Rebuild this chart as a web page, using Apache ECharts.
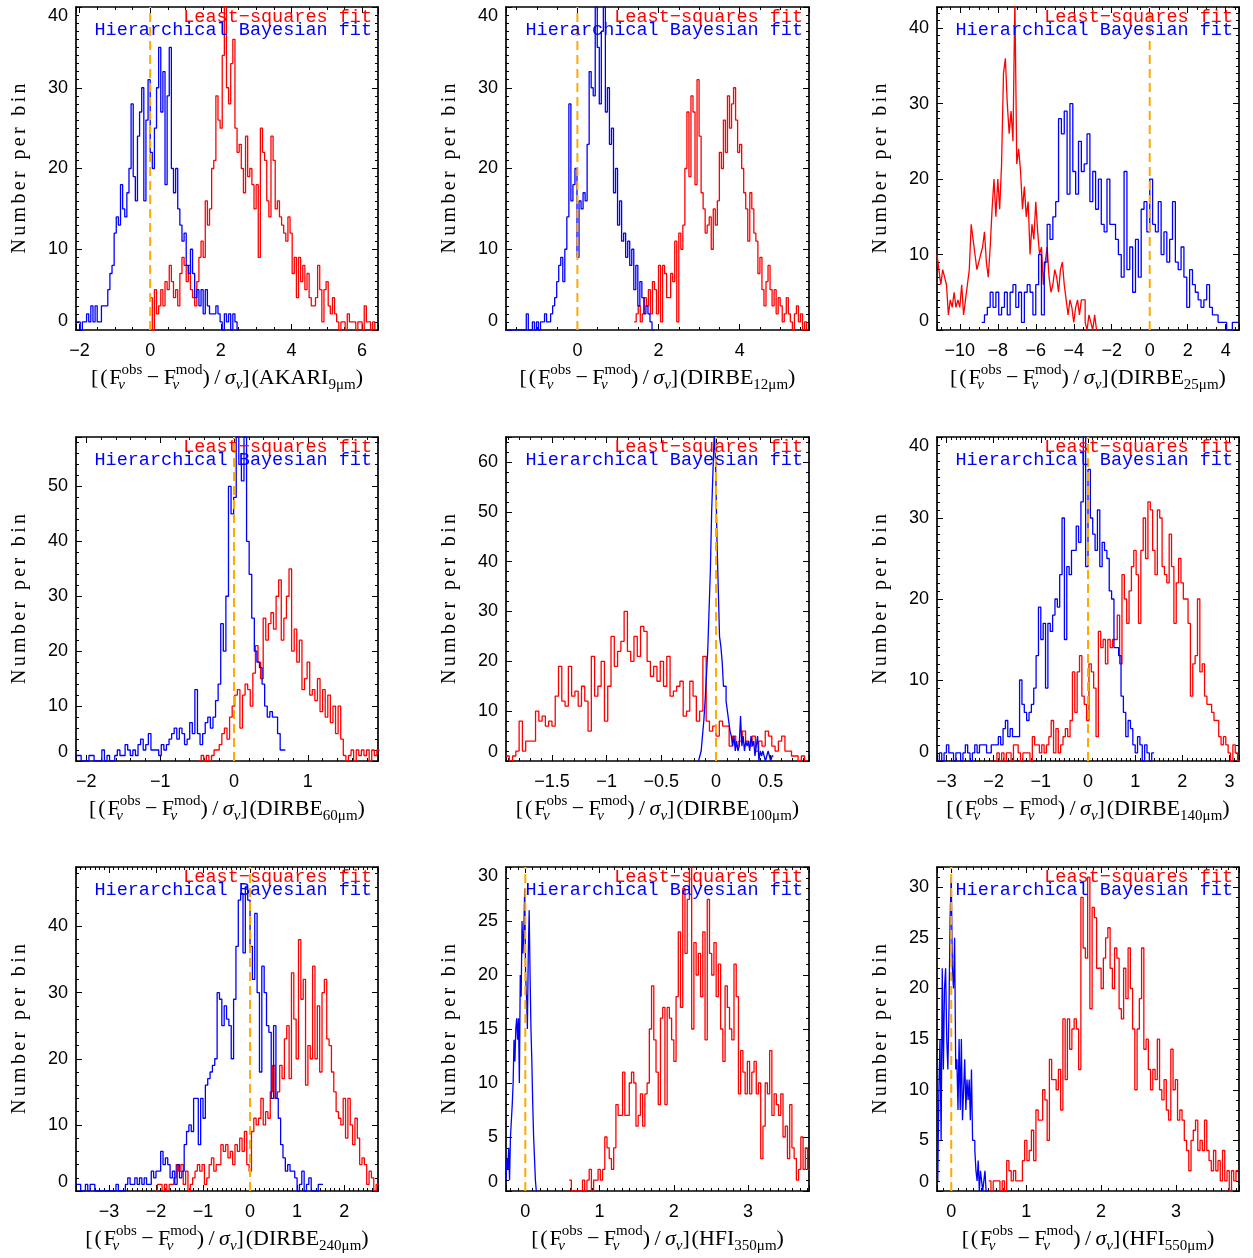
<!DOCTYPE html>
<html><head><meta charset="utf-8">
<script src="https://cdn.jsdelivr.net/npm/echarts@6/dist/echarts.min.js"></script>
<style>html,body{margin:0;padding:0;background:#fff}#c{width:1253px;height:1258px}</style>
</head><body><div id="c"></div>
<script>
// ---------------- DATA (bin start, bin width, counts per bin) ----------------
const bands = ['AKARI','DIRBE','DIRBE','DIRBE','DIRBE','DIRBE','DIRBE','HFI','HFI'];
const waves = ['9μm','12μm','25μm','60μm','100μm','140μm','240μm','350μm','550μm'];
const labelLS = 'Least\u2212squares fit';
const labelHB = 'Hierarchical Bayesian fit';
const labelY = 'Number per bin';

// AKARI 9um
const akari9_blue_start = -2.1, akari9_blue_width = 0.06;
const akari9_blue = [1,1,0,1,1,2,1,3,1,3,1,1,3,3,3,5,7,8,12,14,13,18,15,14,17,20,28,19,16,24,27,30,16,26,31,22,20,25,30,35,27,32,18,29,35,20,17,20,15,13,11,12,8,7,10,7,4,5,3,5,2,5,3,2,2,2,3,2,1,0,2,1,2,0,2,1,0];
const akari9_red_start = 0.0, akari9_red_width = 0.06;
const akari9_red = [4,0,5,2,3,5,3,6,5,8,6,4,5,3,7,9,8,6,8,5,4,3,6,9,11,9,16,13,15,20,21,29,26,25,34,41,30,28,33,36,25,22,23,20,17,24,19,20,18,15,18,9,25,22,21,16,14,24,21,15,16,14,13,12,11,14,12,7,9,4,9,6,8,5,7,4,3,3,4,8,5,1,5,6,3,2,4,2,1,0,1,1,0,2,1,1,1,0,1,1,0,3,1,1,0,1,0];

// DIRBE 12um
const dirbe12_blue_start = -1.76, dirbe12_blue_width = 0.05;
const dirbe12_blue = [0,0,0,0,0,0,0,0,0,0,2,0,0,1,0,1,0,1,1,2,1,1,2,3,4,6,8,9,6,10,14,28,16,18,20,9,16,15,17,16,23,32,30,29,40,35,28,37,40,27,30,23,25,17,20,13,16,11,12,9,11,8,10,5,8,3,6,4,2,3,2,1,0];
const dirbe12_red_start = 1.40, dirbe12_red_width = 0.05;
const dirbe12_red = [1,2,3,1,2,4,3,5,2,6,5,2,8,1,8,7,4,4,7,6,11,1,12,10,13,20,27,19,29,27,18,31,24,17,15,12,13,14,10,15,13,16,22,20,26,22,29,25,28,30,26,22,23,20,17,15,11,17,15,12,11,7,9,5,3,6,8,5,3,5,2,4,3,1,2,4,2,1,0,2,3,1,2,0,1,0];

// DIRBE 25um
const dirbe25_blue_start = -8.85, dirbe25_blue_width = 0.15;
const dirbe25_blue = [1,2,3,5,3,5,2,3,5,2,5,6,3,5,1,5,6,5,2,6,10,2,9,14,12,15,17,28,26,29,18,30,21,18,25,21,22,26,17,21,16,20,14,13,20,14,14,12,10,7,21,8,11,5,12,7,16,17,13,20,14,13,17,10,13,9,12,17,9,8,11,7,3,8,6,5,4,3,4,6,3,2,2,1,1,1,0,0,1,1];
const dirbe25_red_start = -11.2, dirbe25_red_width = 0.1;
const dirbe25_red = [10,8,6,8,7,6,2,4,3,5,3,4,3,6,2,4,6,8,14,12,10,8,9,10,11,13,9,7,11,16,20,15,20,16,22,34,36,30,26,29,25,44,22,24,21,16,19,15,17,10,14,12,17,13,10,11,6,9,11,7,5,6,8,7,5,8,9,6,4,2,4,3,1,3,4,2,4,4,1,0,2,1,0,2,0];

// DIRBE 60um
const dirbe60_blue_start = -2.14, dirbe60_blue_width = 0.035;
const dirbe60_blue = [1,1,0,0,0,1,1,0,0,0,2,0,1,0,0,1,2,1,1,3,2,1,2,1,3,4,2,3,5,2,2,2,1,3,2,3,4,5,6,4,6,5,3,4,7,5,13,5,3,5,7,8,6,8,11,14,25,20,30,50,45,48,59,54,51,59,40,34,26,20,18,17,14,10,8,9,8,8,5,2,2];
const dirbe60_red_start = -0.48, dirbe60_red_width = 0.035;
const dirbe60_red = [0,1,0,1,0,1,2,2,3,5,6,4,8,10,12,13,6,12,14,13,10,16,21,18,15,26,22,25,27,24,30,33,22,26,30,35,20,24,18,22,13,15,18,12,13,11,15,9,13,8,12,7,10,5,10,4,1,0,1,2,0,2,1,2,1,2,0,2,1,2];

// DIRBE 100um
const dirbe100_blue_start = -0.16, dirbe100_blue_width = 0.012;
const dirbe100_blue = [0,1,2,5,8,12,17,22,30,38,50,58,66,60,45,35,25,23,20,15,15,12,10,8,6,5,3,5,2,4,2,3,9,3,5,2,4,3,4,2,5,3,4,1,3,5,0,2,1,2,1,0,1,2,1,0,1];
const dirbe100_red_start = -1.92, dirbe100_red_width = 0.03;
const dirbe100_red = [1,0,1,2,8,2,4,4,4,10,8,9,7,8,7,13,19,12,11,19,13,14,11,15,12,6,21,13,15,20,8,15,25,19,22,24,30,22,20,25,21,27,26,20,17,19,16,20,15,21,13,14,15,16,9,10,16,13,8,10,21,8,6,7,5,8,7,7,3,5,3,4,6,4,3,5,2,4,3,6,5,3,2,4,5,2,2,1,1,0,1,0];

// DIRBE 140um
const dirbe140_blue_start = -3.2, dirbe140_blue_width = 0.05;
const dirbe140_blue = [0,1,0,1,2,1,1,0,1,1,0,1,2,1,0,1,2,1,2,2,2,1,1,2,2,2,3,2,4,5,3,4,3,3,3,10,7,6,5,6,7,9,13,19,15,17,9,17,16,18,20,19,23,30,15,24,23,26,26,29,27,32,41,24,36,30,28,26,31,24,27,26,25,21,20,14,14,13,8,6,3,5,4,2,1,3,2,0,2,1,0,1];
const dirbe140_red_start = -1.98, dirbe140_red_width = 0.05;
const dirbe140_red = [0,1,0,1,0,1,1,0,2,2,1,0,1,1,1,0,3,2,2,1,2,1,2,3,5,1,4,1,2,3,4,3,5,11,6,11,13,8,7,5,12,11,9,3,16,14,15,12,15,14,15,15,18,12,23,20,17,21,24,26,23,17,26,30,25,32,31,26,23,31,30,24,23,22,28,24,17,22,25,22,20,20,17,8,12,13,20,11,12,8,7,7,6,5,5,3,2,3,2,1,0,2,1,0];

// DIRBE 240um
const dirbe240_blue_start = -3.7, dirbe240_blue_width = 0.05;
const dirbe240_blue = [1,1,0,0,1,0,1,1,0,0,0,0,0,0,0,0,0,1,0,0,0,1,2,1,1,2,1,2,1,2,1,1,3,2,3,3,6,4,5,4,2,3,1,4,2,3,7,9,10,9,14,14,7,14,11,16,17,18,19,20,30,29,25,28,26,25,20,29,37,44,45,36,46,44,37,32,42,30,18,34,30,25,24,14,25,14,11,7,5,3,4,3,3,2,0,1,3,0,1,2,0,0,0,1,1];
const dirbe240_red_start = -2.02, dirbe240_red_width = 0.05;
const dirbe240_red = [0,1,1,0,1,0,1,1,2,4,3,4,1,3,0,1,2,3,4,3,4,1,2,4,5,3,4,4,7,6,7,5,6,4,7,6,8,6,9,4,3,9,11,10,11,14,10,12,11,15,19,14,15,19,17,23,25,17,33,26,20,38,29,32,16,22,20,34,20,28,18,30,32,23,22,18,15,12,11,10,14,8,14,10,7,11,8,4,5,4,1,3,2,0,1];

// HFI 350um
const hfi350_blue_start = -0.26, hfi350_blue_width = 0.012;
const hfi350_blue = [1,3,2,4,1,5,5,8,10,14,12,15,16,14,16,10,20,18,25,22,24,28,20,18,15,22,26,20,15,12,8,5,3,1,0];
const hfi350_red_start = 0.59, hfi350_red_width = 0.03;
const hfi350_red = [1,0,0,0,0,0,1,0,1,2,0,1,1,2,1,2,5,4,3,2,4,8,7,7,11,7,7,10,11,10,6,7,9,6,9,10,15,19,14,11,8,16,17,8,17,16,14,12,18,24,17,28,22,27,31,15,23,20,22,18,24,14,27,22,20,23,18,21,15,12,19,17,15,14,21,18,9,13,11,9,12,9,11,12,9,10,3,6,10,9,13,7,9,8,7,9,5,6,3,8,4,3,1,2,5,2,4,2];

// HFI 550um
const hfi550_blue_start = -0.18, hfi550_blue_width = 0.015;
const hfi550_blue = [1,10,15,5,22,12,20,22,15,12,18,27,31,22,20,25,12,13,8,15,8,15,7,10,13,8,11,9,11,7,12,5,5,4,2,1,3,0,2,1,0,1,2,0];
const hfi550_red_start = 0.5, hfi550_red_width = 0.03;
const hfi550_red = [1,0,1,1,1,0,1,0,3,2,1,2,1,1,1,3,5,3,4,6,3,8,7,7,10,9,5,13,11,11,10,12,8,17,11,17,14,16,17,16,12,29,24,23,31,18,28,27,22,22,20,23,25,26,22,20,24,23,18,17,22,19,24,20,16,10,16,19,24,14,15,12,10,12,11,15,10,9,11,8,7,14,10,11,7,8,7,5,4,2,5,6,7,4,5,4,7,4,3,2,4,2,3,1,4,1,2,0,2,1,2];

// ---------------- PANEL / AXIS SETUP ----------------
const hists = [
  [akari9_red, akari9_red_start, akari9_red_width, akari9_blue, akari9_blue_start, akari9_blue_width],
  [dirbe12_red, dirbe12_red_start, dirbe12_red_width, dirbe12_blue, dirbe12_blue_start, dirbe12_blue_width],
  [dirbe25_red, dirbe25_red_start, dirbe25_red_width, dirbe25_blue, dirbe25_blue_start, dirbe25_blue_width],
  [dirbe60_red, dirbe60_red_start, dirbe60_red_width, dirbe60_blue, dirbe60_blue_start, dirbe60_blue_width],
  [dirbe100_red, dirbe100_red_start, dirbe100_red_width, dirbe100_blue, dirbe100_blue_start, dirbe100_blue_width],
  [dirbe140_red, dirbe140_red_start, dirbe140_red_width, dirbe140_blue, dirbe140_blue_start, dirbe140_blue_width],
  [dirbe240_red, dirbe240_red_start, dirbe240_red_width, dirbe240_blue, dirbe240_blue_start, dirbe240_blue_width],
  [hfi350_red, hfi350_red_start, hfi350_red_width, hfi350_blue, hfi350_blue_start, hfi350_blue_width],
  [hfi550_red, hfi550_red_start, hfi550_red_width, hfi550_blue, hfi550_blue_start, hfi550_blue_width]
];
const axesCfg = [
  {xMin:-2.1,  xMax:6.45, xSplit:4, xInt:2,   xMinor:4,  yMax:40,   ySplit:4, yInt:10, yMinor:10},
  {xMin:-1.76, xMax:5.71, xSplit:4, xInt:2,   xMinor:4,  yMax:40,   ySplit:4, yInt:10, yMinor:10},
  {xMin:-11.2, xMax:4.7,  xSplit:8, xInt:2,   xMinor:4,  yMax:42.8, ySplit:4, yInt:10, yMinor:10},
  {xMin:-2.14, xMax:1.95, xSplit:4, xInt:1,   xMinor:5,  yMax:59,   ySplit:6, yInt:10, yMinor:5},
  {xMin:-1.92, xMax:0.85, xSplit:6, xInt:0.5, xMinor:5,  yMax:65,   ySplit:6, yInt:10, yMinor:5},
  {xMin:-3.2,  xMax:3.2,  xSplit:6, xInt:1,   xMinor:10, yMax:40,   ySplit:4, yInt:10, yMinor:10},
  {xMin:-3.7,  xMax:2.72, xSplit:6, xInt:1,   xMinor:10, yMax:49,   ySplit:5, yInt:10, yMinor:5},
  {xMin:-0.26, xMax:3.82, xSplit:4, xInt:1,   xMinor:10, yMax:30,   ySplit:6, yInt:5,  yMinor:5},
  {xMin:-0.19, xMax:3.84, xSplit:4, xInt:1,   xMinor:10, yMax:32,   ySplit:6, yInt:5,  yMinor:5}
];
const colLeft = [76, 506, 937], colW = [302, 303, 302];
const rowTop = [7, 437, 867], rowH = [323, 324, 324];

const TICKFONT = '"Liberation Sans", Helvetica, Arial, sans-serif';
const SERIF = '"Liberation Serif", "Times New Roman", serif';
const MONO = '"Liberation Mono", "Courier New", monospace';
const TS = '\u2009'; // thin space
const HS = '\u200A'; // hair space

function spaced(s, sp) { return Array.from(s).join(sp); }
function stepData(counts, start, width) {
  const pts = counts.map((c, i) => [start + i * width, c]);
  pts.push([start + counts.length * width, counts[counts.length - 1]]);
  return pts;
}
function fmt(interval) {
  return function (v) {
    const r = v / interval;
    if (Math.abs(r - Math.round(r)) > 1e-6) return '';
    return String(+v.toFixed(3)).replace('-', '\u2212');
  };
}
const axisLineStyle = {show: true, onZero: false, lineStyle: {color: '#000', width: 1.7}};
function tickCfg(len) { return {show: true, inside: true, length: len, lineStyle: {color: '#000', width: 1}}; }

const grids = [], xAxes = [], yAxes = [], series = [], graphics = [];
for (let k = 0; k < 9; k++) {
  const c = axesCfg[k];
  const row = Math.floor(k / 3), col = k % 3;
  const left = colLeft[col], top = rowTop[row], w = colW[col], h = rowH[row];
  grids.push({left: left, top: top, width: w, height: h, containLabel: false});
  const xName = '{t|[' + HS + '(' + HS + 'F}{s|ν}{p|obs}{t|' + TS + '\u2212' + TS + 'F}{s|ν}{p|mod}{t|)' + TS + '/' + TS + '}{ti|σ}{s2|ν}{t|]' + HS + '(' + bands[k] + '}{sb|' + waves[k] + '}{t|)}';
  const xBase = {
    type: 'value', gridIndex: k, min: c.xMin, max: c.xMax, splitNumber: c.xSplit,
    minInterval: c.xInt, maxInterval: c.xInt, scale: true,
    axisLine: axisLineStyle, axisTick: tickCfg(6),
    minorTick: {show: true, splitNumber: c.xMinor, length: 3, lineStyle: {color: '#000', width: 1}},
    splitLine: {show: false}, minorSplitLine: {show: false}
  };
  xAxes.push(Object.assign({}, xBase, {
    position: 'bottom',
    axisLabel: {show: true, margin: 12, color: '#000', fontSize: 18, fontFamily: TICKFONT, formatter: fmt(c.xInt)},
    name: xName, nameLocation: 'middle', nameGap: 33,
    nameTextStyle: {
      color: '#000', fontFamily: SERIF, fontSize: 22,
      rich: {
        t: {fontFamily: SERIF, fontSize: 22, color: '#000', lineHeight: 30, verticalAlign: 'middle'},
        ti: {fontFamily: SERIF, fontSize: 22, fontStyle: 'italic', color: '#000', lineHeight: 30, verticalAlign: 'middle'},
        p: {fontFamily: SERIF, fontSize: 15, color: '#000', lineHeight: 16, verticalAlign: 'top'},
        s: {fontFamily: SERIF, fontSize: 15, fontStyle: 'italic', color: '#000', lineHeight: 14, verticalAlign: 'bottom', width: 0},
        s2: {fontFamily: SERIF, fontSize: 15, fontStyle: 'italic', color: '#000', lineHeight: 14, verticalAlign: 'bottom'},
        sb: {fontFamily: SERIF, fontSize: 15, color: '#000', lineHeight: 12, verticalAlign: 'bottom'}
      }
    }
  }));
  xAxes.push(Object.assign({}, xBase, {position: 'top', axisLabel: {show: false}}));
  const yBase = {
    type: 'value', gridIndex: k, min: 0, max: c.yMax, splitNumber: c.ySplit,
    minInterval: c.yInt, maxInterval: c.yInt,
    axisLine: axisLineStyle, axisTick: tickCfg(6),
    minorTick: {show: true, splitNumber: c.yMinor, length: 3, lineStyle: {color: '#000', width: 1}},
    splitLine: {show: false}, minorSplitLine: {show: false}
  };
  yAxes.push(Object.assign({}, yBase, {
    position: 'left',
    axisLabel: {show: true, margin: 8, color: '#000', fontSize: 18, fontFamily: TICKFONT, formatter: fmt(c.yInt),
      verticalAlignMinLabel: 'bottom', verticalAlignMaxLabel: 'top'},
    name: spaced(labelY, HS + HS), nameLocation: 'middle', nameRotate: 90, nameGap: 46,
    nameTextStyle: {color: '#000', fontFamily: SERIF, fontSize: 20}
  }));
  yAxes.push(Object.assign({}, yBase, {position: 'right', axisLabel: {show: false}}));

  const hd = hists[k];
  series.push({type: 'line', xAxisIndex: 2 * k, yAxisIndex: 2 * k, step: 'end', symbol: 'none', silent: true,
    data: stepData(hd[0], hd[1], hd[2]), lineStyle: {color: '#ff0000', width: 1.3}, clip: true, z: 2});
  series.push({type: 'line', xAxisIndex: 2 * k, yAxisIndex: 2 * k, step: 'end', symbol: 'none', silent: true,
    data: stepData(hd[3], hd[4], hd[5]), lineStyle: {color: '#0000ff', width: 1.3}, clip: true, z: 3});
  series.push({type: 'line', xAxisIndex: 2 * k, yAxisIndex: 2 * k, symbol: 'none', silent: true,
    data: [[0, 0], [0, c.yMax]], lineStyle: {color: '#ffaa00', width: 2, type: [9, 5]}, clip: true, z: 4});

  graphics.push({type: 'text', x: left + w - 6, y: top + 10, z: 10,
    style: {text: labelLS, fill: '#ff0000', font: '18.5px ' + MONO, align: 'right', verticalAlign: 'middle', textAlign: 'right', textVerticalAlign: 'middle'}});
  graphics.push({type: 'text', x: left + w - 6, y: top + 23, z: 10,
    style: {text: labelHB, fill: '#0000ff', font: '18.5px ' + MONO, align: 'right', verticalAlign: 'middle', textAlign: 'right', textVerticalAlign: 'middle'}});
}

const chart = echarts.init(document.getElementById('c'), null, {renderer: 'canvas'});
chart.setOption({
  animation: false,
  backgroundColor: '#fff',
  grid: grids, xAxis: xAxes, yAxis: yAxes, series: series, graphic: graphics
});
</script></body></html>
